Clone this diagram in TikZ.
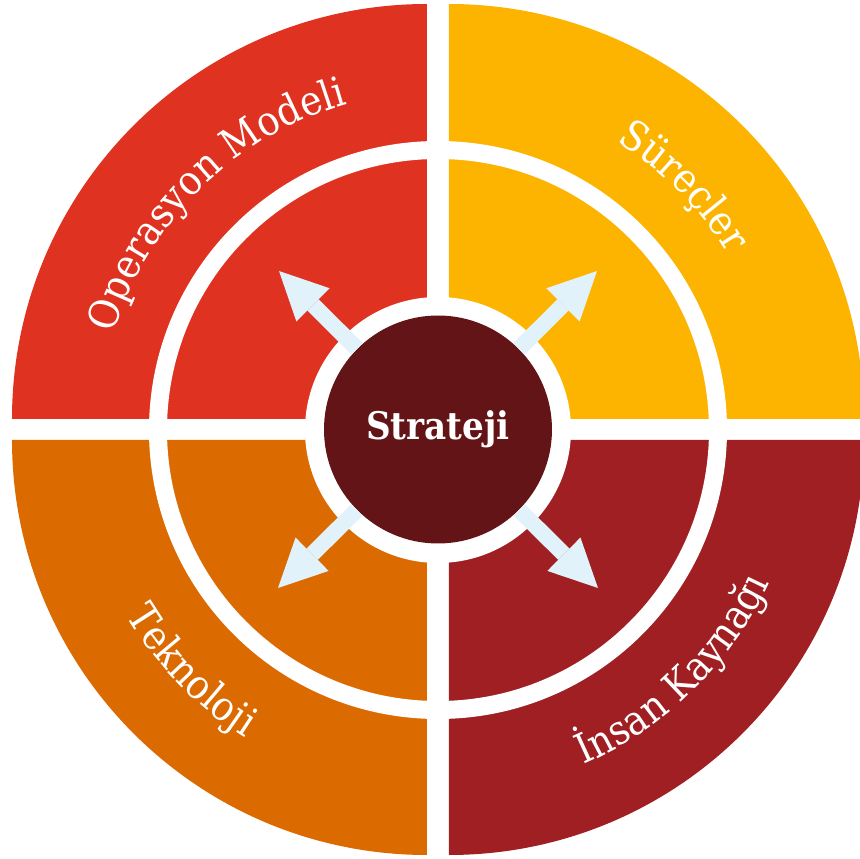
\documentclass[tikz,border=0pt]{standalone}
\usepackage{fontspec}
\setmainfont{DejaVu Serif Condensed}
\usetikzlibrary{arrows.meta,decorations.text}
\definecolor{qred}{HTML}{E03220}
\definecolor{qgold}{HTML}{FDB400}
\definecolor{qorange}{HTML}{DB6A00}
\definecolor{qwine}{HTML}{A01F23}
\definecolor{qcore}{HTML}{631416}
\definecolor{qarrow}{HTML}{E2F2FA}
\newcommand{\arcfont}{\fontsize{41}{48}\selectfont\color{white}}
\tikzset{
  ringline/.style={draw=white, line width=18pt},
  whitedisk/.style={circle, fill=white, minimum size=266pt, inner sep=0pt},
  coredisk/.style={circle, fill=qcore, minimum size=228pt, inner sep=0pt, text=white, font=\bfseries\fontsize{38}{44}\selectfont},
  outarrow/.style={draw=qarrow, line width=16pt, -{Triangle[length=48pt,width=47pt,line width=0pt]}},
  arctext/.style={decorate, decoration={text along path, text align=center, text={|\arcfont|#1}}}
}
\begin{document}
\begin{tikzpicture}[x=1pt,y=1pt]
\useasboundingbox (-438,-429) rectangle (422,430);
% quadrants
\fill[qred]    (-11,11)  -- ++(180:415pt) arc[start angle=180, end angle=90,  radius=415pt] -- cycle;
\fill[qgold]   (11,11)   -- ++(90:415pt)  arc[start angle=90,  end angle=0,   radius=415pt] -- cycle;
\fill[qorange] (-11,-10) -- ++(270:415pt) arc[start angle=270, end angle=180, radius=415pt] -- cycle;
\fill[qwine]   (11,-10)  -- ++(0:415pt)   arc[start angle=0,   end angle=-90, radius=415pt] -- cycle;
% inner white ring
\draw[ringline] (0,0) circle[radius=280pt];
% centre
\node[whitedisk] (w) at (0,0) {};
\node[coredisk] (s) at (0,0.5) {Strateji};
% arrows
\coordinate (tl) at (-159,159);
\coordinate (tr) at (159,159);
\coordinate (bl) at (-160,-158);
\coordinate (br) at (160,-158);
\draw[outarrow] (s) -- (tl);
\draw[outarrow] (s) -- (tr);
\draw[outarrow] (s) -- (bl);
\draw[outarrow] (s) -- (br);
% arc labels
\path[arctext={Operasyon Modeli}] (179.4:338) arc[start angle=179.4, end angle=89.4, radius=338pt];
\path[arctext={Süreçler}] (89.75:339) arc[start angle=89.75, end angle=-0.25, radius=339pt];
\path[arctext={Teknoloji}] (179.3:363) arc[start angle=179.3, end angle=269.3, radius=363pt];
\path[arctext={İnsan Kaynağı}] (269.35:365) arc[start angle=269.35, end angle=359.35, radius=365pt];
\end{tikzpicture}
\end{document}
